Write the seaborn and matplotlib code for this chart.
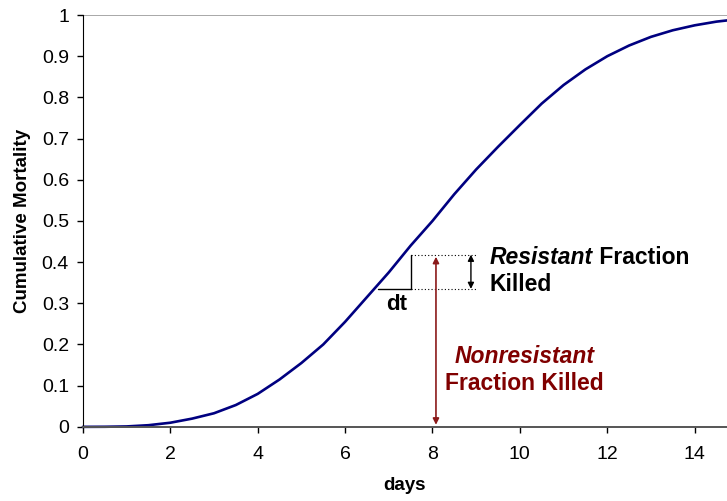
import matplotlib
matplotlib.use('Agg')
import matplotlib.pyplot as plt
import seaborn as sns
import pandas as pd

# cumulative mortality curve
days = [0, 0.5, 1, 1.5, 2, 2.5, 3, 3.5, 4, 4.5, 5, 5.5, 6, 6.5, 7, 7.5, 8,
        8.5, 9, 9.5, 10, 10.5, 11, 11.5, 12, 12.5, 13, 13.5, 14, 14.5, 15]
mortality = [0, 0.0002, 0.001, 0.004, 0.01, 0.02, 0.033, 0.053, 0.08, 0.115,
             0.155, 0.2, 0.255, 0.315, 0.375, 0.44, 0.5, 0.565, 0.625, 0.68,
             0.733, 0.785, 0.83, 0.868, 0.9, 0.926, 0.947, 0.963, 0.975, 0.984, 0.99]
x_ticks = [0, 2, 4, 6, 8, 10, 12, 14]
y_ticks = [0, 0.1, 0.2, 0.3, 0.4, 0.5, 0.6, 0.7, 0.8, 0.9, 1]
y_labels = ['0', '0.1', '0.2', '0.3', '0.4', '0.5', '0.6', '0.7', '0.8', '0.9', '1']

# annotation geometry (dt triangle, resistant / nonresistant arrows)
dt_x0, dt_x1 = 6.75, 7.5
low_y, high_y = 0.335, 0.418
dotted_end = 9.0
res_arrow_x = 8.88
nonres_arrow_x = 8.08

df = pd.DataFrame({'days': days, 'Cumulative Mortality': mortality})

sns.set_style('white')
plt.rcParams['font.family'] = ['Liberation Sans', 'DejaVu Sans']
plt.rcParams['text.color'] = 'black'
plt.rcParams['axes.labelcolor'] = 'black'
plt.rcParams['xtick.color'] = 'black'
plt.rcParams['ytick.color'] = 'black'

fig = plt.figure(figsize=(7.27, 5.01), dpi=100)
ax = fig.add_axes([0.114, 0.148, 0.886, 0.822])

sns.lineplot(data=df, x='days', y='Cumulative Mortality', color='#000080',
             linewidth=1.9, ax=ax, clip_on=False)

ax.set_xlim(0, 14.74)
ax.set_ylim(0, 1)
ax.axhline(1, color='#999999', linewidth=1.2, zorder=0)
ax.set_xticks(x_ticks)
ax.set_yticks(y_ticks)
ax.set_yticklabels(y_labels)
ax.tick_params(axis='both', direction='out', length=4, width=1, labelsize=14,
               left=True, bottom=True)
ax.tick_params(axis='y', pad=6)
ax.tick_params(axis='x', pad=10)
for s in ['top', 'right']:
    ax.spines[s].set_visible(False)
ax.spines['left'].set_color('black')
ax.spines['bottom'].set_color('#555555')
ax.spines['bottom'].set_linewidth(1.4)
ax.set_xlabel('days', fontsize=13.5, fontweight='bold', labelpad=10)
ax.set_ylabel('Cumulative Mortality', fontsize=13.5, fontweight='bold', labelpad=8)

# dt triangle
ax.plot([dt_x0, dt_x1], [low_y, low_y], color='black', linewidth=1)
ax.plot([dt_x1, dt_x1], [low_y, high_y], color='black', linewidth=1)
ax.plot([dt_x1, dotted_end], [low_y, low_y], color='black', linewidth=0.8, linestyle=(0, (1, 2)))
ax.plot([dt_x1, dotted_end], [high_y, high_y], color='black', linewidth=0.8, linestyle=(0, (1, 2)))
ax.text(7.19, 0.298, 'dt', fontsize=16, fontweight='bold', ha='center', va='center')

ax.annotate('', xy=(res_arrow_x, low_y), xytext=(res_arrow_x, high_y),
            arrowprops=dict(arrowstyle='<|-|>', color='black', lw=1, mutation_scale=9,
                            shrinkA=0, shrinkB=0))
ax.annotate('', xy=(nonres_arrow_x, 0.005), xytext=(nonres_arrow_x, high_y - 0.005),
            arrowprops=dict(arrowstyle='<|-|>', color='#8B1A1A', lw=1.2, mutation_scale=9,
                            shrinkA=0, shrinkB=0))

t = ax.text(9.31, 0.411, 'Resistant', fontsize=16.5, fontweight='bold', fontstyle='italic',
            ha='left', va='center')
ax.annotate(' Fraction', xy=(1, 0.5), xycoords=t, fontsize=16.5, fontweight='bold',
            ha='left', va='center')
ax.text(9.31, 0.345, 'Killed', fontsize=16.5, fontweight='bold', ha='left', va='center')
ax.text(10.11, 0.172, 'Nonresistant', fontsize=16.5, fontweight='bold', fontstyle='italic',
        color='#800000', ha='center', va='center')
ax.text(10.11, 0.105, 'Fraction Killed', fontsize=16.5, fontweight='bold',
        color='#800000', ha='center', va='center')

fig.savefig('out.png', dpi=100)
